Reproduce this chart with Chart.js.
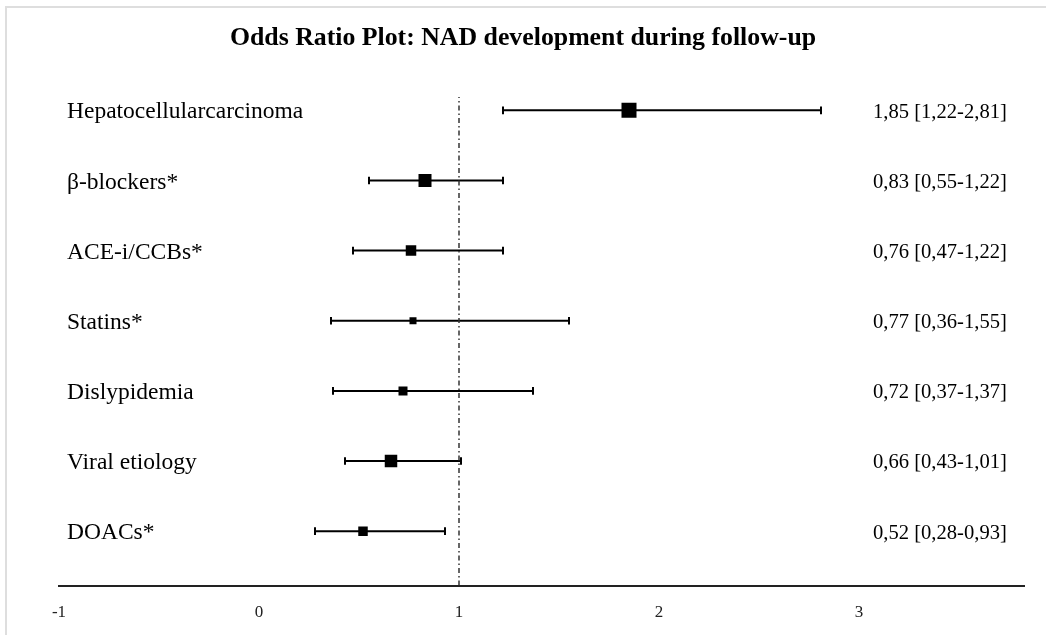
<!DOCTYPE html>
<html>
<head>
<meta charset="utf-8">
<script src="https://cdn.jsdelivr.net/npm/chart.js@4/dist/chart.umd.min.js"></script>
<style>
  body { margin: 0; background: #fff; overflow: hidden; }
  #frame { position: absolute; left: 5px; top: 6px; width: 1100px; height: 700px; border: 2px solid #dedede; box-sizing: border-box; }
  #orChart { position: absolute; left: 0; top: 0; }
</style>
</head>
<body>
<div id="frame"></div>
<canvas id="orChart" width="1046" height="635"></canvas>
<script>
// Datos (de arriba a abajo)
const chartTitle = 'Odds Ratio Plot: NAD development during follow-up';
const factors = ['Hepatocellularcarcinoma', 'β-blockers*', 'ACE-i/CCBs*', 'Statins*', 'Dislypidemia', 'Viral etiology', 'DOACs*'];
const oddsRatio = [1.85, 0.83, 0.76, 0.77, 0.72, 0.66, 0.52];
const ciLow = [1.22, 0.55, 0.47, 0.36, 0.37, 0.43, 0.28];
const ciHigh = [2.81, 1.22, 1.22, 1.55, 1.37, 1.01, 0.93];
const xTicks = [-1, 0, 1, 2, 3];

// Tamaño del cuadrado (px de lado), solo estilo
const markerSide = [15, 13, 10.5, 7, 9, 12.5, 9.5];

const n = factors.length;
const rowOf = i => n - i;   // fila 7 arriba, 1 abajo
const yMin = 0.224, yMax = 7.19;

const fmt = v => v.toFixed(2).replace('.', ',');

let datasets = [];

// Línea de referencia OR = 1
datasets.push({
    data: [{x: 1, y: yMin}, {x: 1, y: yMax}],
    borderColor: '#333',
    borderWidth: 1.5,
    borderDash: [5, 3, 1.5, 3],
    pointRadius: 0,
    showLine: true
});

// Intervalos de confianza
factors.forEach(function(f, i) {
    datasets.push({
        data: [{x: ciLow[i], y: rowOf(i)}, {x: ciHigh[i], y: rowOf(i)}],
        borderColor: '#000',
        borderWidth: 2,
        showLine: true,
        pointStyle: 'line',
        rotation: 90,
        pointRadius: 3.8,
        pointBorderWidth: 2,
        pointBorderColor: '#000'
    });
});

// Estimaciones puntuales
datasets.push({
    data: oddsRatio.map((v, i) => ({x: v, y: rowOf(i)})),
    pointStyle: 'rect',
    pointRadius: markerSide.map(s => s / Math.SQRT2),
    pointBackgroundColor: '#000',
    pointBorderWidth: 0,
    showLine: false
});

const rowText = {
    id: 'rowText',
    afterDatasetsDraw(chart) {
        const ctx = chart.ctx;
        const xs = chart.scales.x, ys = chart.scales.y;
        ctx.save();
        ctx.fillStyle = '#000';
        ctx.textBaseline = 'middle';

        // título centrado en el lienzo
        ctx.textAlign = 'center';
        ctx.font = 'bold 25.8px "Liberation Serif", serif';
        ctx.fillText(chartTitle, chart.width / 2, 38);

        ctx.textAlign = 'left';
        factors.forEach(function(f, i) {
            const y = ys.getPixelForValue(rowOf(i)) + 2;
            ctx.font = '23.5px "Liberation Serif", serif';
            ctx.fillText(f, xs.getPixelForValue(-0.96), y);
            ctx.font = '20.6px "Liberation Serif", serif';
            ctx.fillText(fmt(oddsRatio[i]) + ' [' + fmt(ciLow[i]) + '-' + fmt(ciHigh[i]) + ']', xs.getPixelForValue(3.07), y);
        });
        ctx.restore();
    }
};

new Chart(document.getElementById('orChart').getContext('2d'), {
    type: 'scatter',
    data: { datasets: datasets },
    options: {
        responsive: false,
        animation: false,
        devicePixelRatio: 1,
        layout: { padding: { left: 59, right: 22, top: 97, bottom: -5 } },
        plugins: {
            legend: { display: false },
            tooltip: { enabled: false },
            title: { display: false }
        },
        scales: {
            x: {
                type: 'linear',
                min: -1,
                max: 3.825,
                afterBuildTicks: function(scale) {
                    scale.ticks = xTicks.map(v => ({value: v}));
                },
                grid: { display: false, drawTicks: false },
                border: { display: true, color: '#222', width: 2 },
                ticks: {
                    padding: 17,
                    color: '#222',
                    font: { family: '"Liberation Serif", serif', size: 17 },
                    callback: v => String(v)
                }
            },
            y: {
                type: 'linear',
                min: yMin,
                max: yMax,
                display: false
            }
        }
    },
    plugins: [rowText]
});
</script>
</body>
</html>
